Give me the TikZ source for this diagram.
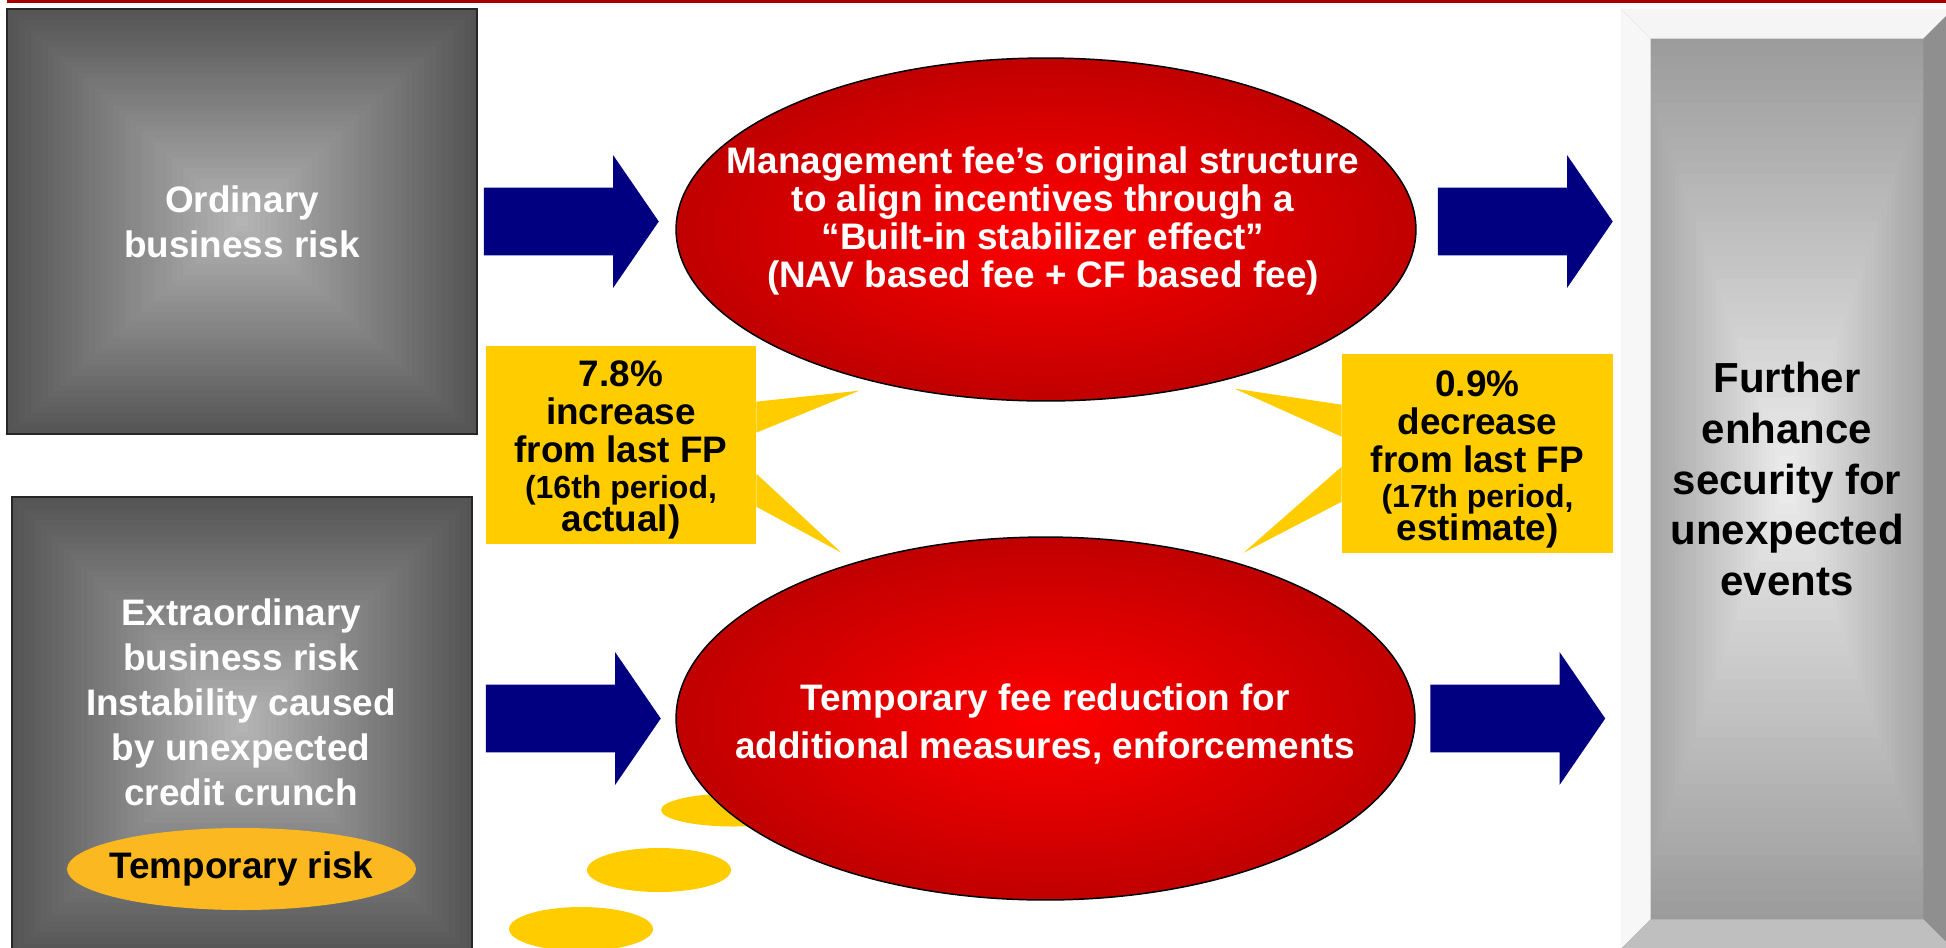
\documentclass[tikz,border=0pt]{standalone}
\usepackage{fontspec}
\setmainfont{Liberation Sans}
\usetikzlibrary{shapes.geometric, shapes.arrows, calc}
\tikzset{every picture/.style={/utils/exec={\bfseries}}}

\definecolor{navyblue}{HTML}{000080}
\definecolor{calloutyellow}{HTML}{FFCC00}
\definecolor{riskorange}{HTML}{FBB820}
\definecolor{ovalred}{HTML}{FF0000}
\definecolor{ovaldark}{HTML}{C00000}
\definecolor{boxdark}{HTML}{555555}
\definecolor{boxlight}{HTML}{B6B6B6}
\definecolor{paneledge}{HTML}{969696}
\definecolor{panellight}{HTML}{EEEEEE}
\definecolor{topred}{HTML}{A80000}

\tikzset{
  % glow from the edges to the centre
  rectglow/.style 2 args={path picture={
      \foreach \k [evaluate=\k as \pct using 100-2.5*\k] in {40,39,...,1}
        \fill[#2!\pct!#1] ($(path picture bounding box.center)!\k/40!(path picture bounding box.north west)$) rectangle ($(path picture bounding box.center)!\k/40!(path picture bounding box.south east)$);
  }},
  riskbox/.style={rectangle, draw=black!85, line width=0.04cm, fill=boxdark, rectglow={boxdark}{boxlight}, text=white, align=center, font=\fontsize{21}{25.6}\selectfont},
  redoval/.style={ellipse, draw=black, line width=0.03cm, inner color=ovalred, outer color=ovaldark},
  ovaltext/.style={text=white, align=center},
  dot/.style={ellipse, fill=calloutyellow, minimum width=2.88cm, inner sep=0pt},
  callout/.style={rectangle, fill=calloutyellow, inner sep=0pt, align=center, font=\fontsize{21}{21.5}\selectfont},
  blockarrow/.style={single arrow, fill=navyblue, draw=none, inner xsep=0pt, inner ysep=0.67cm, minimum height=3.5cm, minimum width=2.64cm, single arrow head extend=0.65cm, single arrow tip angle=111, single arrow head indent=0pt},
}

\begin{document}
\begin{tikzpicture}[x=0.02cm, y=-0.02cm]
		\useasboundingbox (0,0) rectangle (1946,947);
		% red rule on top
		\draw[topred, line width=0.05cm] (7,1.25) -- (1946,1.25);

		% ordinary risk
		\node[riskbox, minimum width=9.4cm, minimum height=8.5cm] (ord) at (242,221.5) {Ordinary\\business risk};
		% extraordinary risk
		\node[riskbox, minimum width=9.2cm, minimum height=9.16cm] (ext) at (242,726) {};
		\node[ovaltext, font=\fontsize{21}{25.6}\selectfont] (ext text) at (241,702) {Extraordinary\\business risk\\Instability caused\\by unexpected\\credit crunch};
		\node[ellipse, fill=riskorange, minimum width=6.98cm, minimum height=1.64cm, inner sep=0pt] (tmp) at (241.5,869) {};
		\node[font=\fontsize{21}{25}\selectfont] (tmp text) at (tmp) {Temporary risk};

		% yellow dots
		\node[dot, minimum height=0.66cm] (dot1) at (733,810) {};
		\node[dot, minimum height=0.88cm] (dot2) at (659,870) {};
		\node[dot, minimum height=0.88cm] (dot3) at (581,929) {};

		% fee structure
		\node[redoval, minimum width=14.8cm, minimum height=6.86cm] (mgmt) at (1046,229.5) {};
		\node[ovaltext, font=\fontsize{21}{21.8}\selectfont] (mgmt text) at (1043,221) {Management fee’s original structure\\to align incentives through a\\“Built-in stabilizer effect”\\(NAV based fee + CF based fee)};
		% temporary reduction
		\node[redoval, minimum width=14.78cm, minimum height=7.26cm] (low) at (1045.5,718.5) {};
		\node[ovaltext, font=\fontsize{21}{27.3}\selectfont] (low text) at (1045,724) {Temporary fee reduction for\\additional measures, enforcements};

		% callouts
		\node[callout, minimum width=5.4cm, minimum height=3.96cm] (inc) at (621,445) {\rule{0pt}{20.3pt}7.8\%\\increase\\from last FP\\[-1.2pt]\fontsize{18.2}{18.5}\selectfont(16th period,\\[-2.8pt]actual)};
		\fill[calloutyellow] ($(inc.north east)+(0,56)$) -- ($(inc.north east)+(103,45)$) -- ($(inc.north east)+(0,87)$) -- cycle;
		\fill[calloutyellow] ($(inc.north east)+(0,128)$) -- ($(inc.north east)+(85,207)$) -- ($(inc.north east)+(0,161)$) -- cycle;

		\node[callout, minimum width=5.42cm, minimum height=3.98cm] (dec) at (1477.5,453.5) {\rule{0pt}{21.7pt}0.9\%\\decrease\\from last FP\\[-1.2pt]\fontsize{18.2}{18.5}\selectfont(17th period,\\[-2.8pt]estimate)};
		\fill[calloutyellow] ($(dec.north west)+(0,51)$) -- ($(dec.north west)+(-107,35)$) -- ($(dec.north west)+(0,83)$) -- cycle;
		\fill[calloutyellow] ($(dec.north west)+(0,113)$) -- ($(dec.north west)+(-98,199)$) -- ($(dec.north west)+(0,148)$) -- cycle;

		% security panel
		\node[rectangle, draw=black!25, line width=0.02cm, fill=paneledge, rectglow={paneledge}{panellight}, minimum width=6.64cm, minimum height=18.8cm, align=center, font=\fontsize{23.9}{29}\selectfont] (sec) at (1787,479) {Further\\enhance\\security for\\unexpected\\events};
		\fill[black!3] (sec.north west) -- (sec.south west) -- ($(sec.south west)+(30,-30)$) -- ($(sec.north west)+(30,30)$) -- cycle;
		\fill[black!4] (sec.north west) -- (sec.north east) -- ($(sec.north east)+(-30,30)$) -- ($(sec.north west)+(30,30)$) -- cycle;
		\fill[black!44] (sec.north east) -- (sec.south east) -- ($(sec.south east)+(-30,-30)$) -- ($(sec.north east)+(-30,30)$) -- cycle;
		\fill[black!25] (sec.south west) -- (sec.south east) -- ($(sec.south east)+(-30,-30)$) -- ($(sec.south west)+(30,-30)$) -- cycle;

		% arrows
		\path (ord.east) -- node[blockarrow, xshift=-0.34cm] (arr1) {} (ord.east -| mgmt.west);
		\path (mgmt.east |- ord.east) -- node[blockarrow, xshift=-0.1cm] (arr2) {} (sec.west |- ord.east);
		\path (ext.east |- low.west) -- node[blockarrow, xshift=-0.25cm] (arr3) {} (low.west);
		\path (low.east) -- node[blockarrow, xshift=-0.24cm] (arr4) {} (low.east -| sec.west);
	\end{tikzpicture}
\end{document}
